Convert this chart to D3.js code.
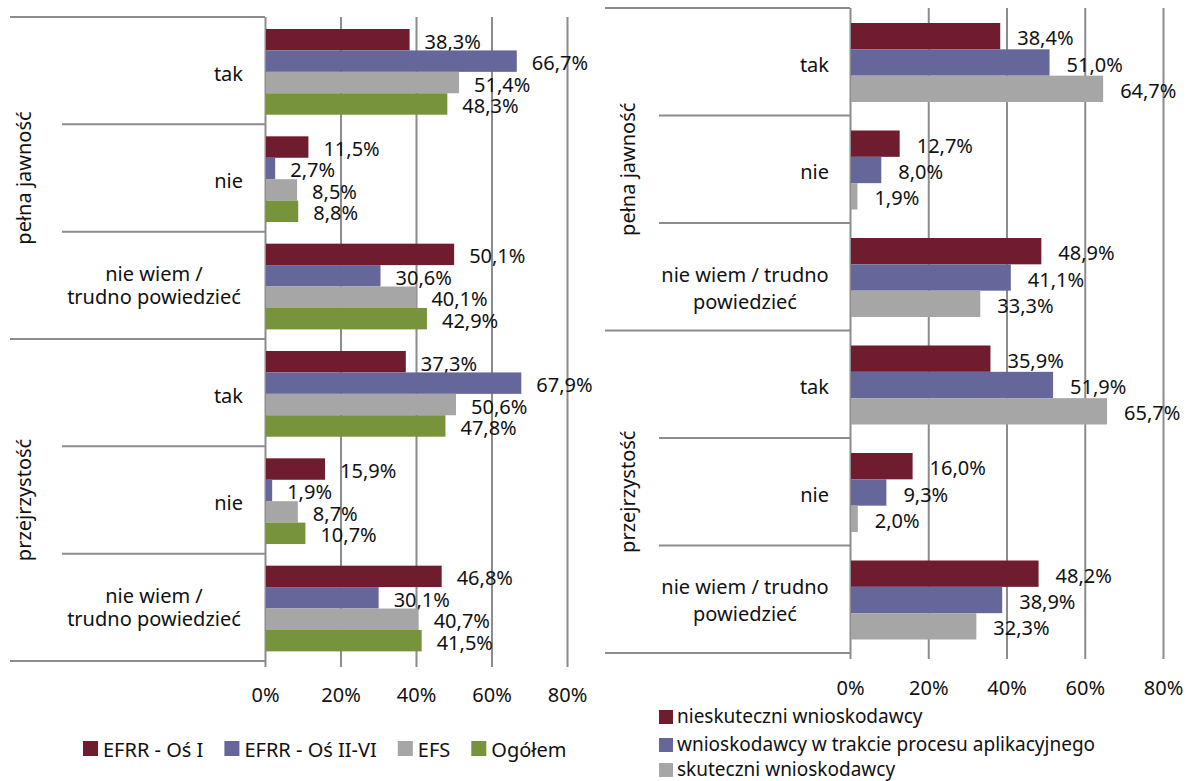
<!DOCTYPE html>
<html>
<head>
<meta charset="utf-8">
<script src="https://d3js.org/d3.v7.min.js"></script>
<style>
	body { margin: 0; background: #fff; }
	text { font-family: "Noto Sans", sans-serif; font-size: 20px; fill: #111; }
</style>
</head>
<body>
<svg id="chart" width="1192" height="781"></svg>
<script>
/*
** Two grouped bar charts: opinions about "pełna jawność" and "przejrzystość".
*/

// categories
var groups = ["pełna jawność", "przejrzystość"];
var answersLeft = [["tak"], ["nie"], ["nie wiem /", "trudno powiedzieć"]];
var answersRight = [["tak"], ["nie"], ["nie wiem / trudno", "powiedzieć"]];
var tickValues = [0, 20, 40, 60, 80];

// left chart series (tak, nie, nie wiem) x (pełna jawność, przejrzystość)
var seriesLeft = ["EFRR - Oś I", "EFRR - Oś II-VI", "EFS", "Ogółem"];
var efrr1 = [38.3, 11.5, 50.1, 37.3, 15.9, 46.8];
var efrr2 = [66.7, 2.7, 30.6, 67.9, 1.9, 30.1];
var efs = [51.4, 8.5, 40.1, 50.6, 8.7, 40.7];
var ogolem = [48.3, 8.8, 42.9, 47.8, 10.7, 41.5];

// right chart series
var seriesRight = ["nieskuteczni wnioskodawcy", "wnioskodawcy w trakcie procesu aplikacyjnego", "skuteczni wnioskodawcy"];
var nieskuteczni = [38.4, 12.7, 48.9, 35.9, 16.0, 48.2];
var wTrakcie = [51.0, 8.0, 41.1, 51.9, 9.3, 38.9];
var skuteczni = [64.7, 1.9, 33.3, 65.7, 2.0, 32.3];

var colors = ["#6f1d2e", "#65679a", "#a6a6a6", "#77933c"];
var lineColor = "#8c8c8c";

var svg = d3.select("#chart");

drawPanel({
	series: seriesLeft, values: [efrr1, efrr2, efs, ogolem], answers: answersLeft,
	top: 17, bottom: 661, x0: 265, x1: 567,
	outerLeft: 10, innerLeft: 62, groupX: 31, catX: 243, multiX: 154,
	multiDy: [-4, 19], multiShift: [0, 0],
	inner: [12, 97.7], gap: 15, tickY: 702
});

drawPanel({
	series: seriesRight, values: [nieskuteczni, wTrakcie, skuteczni], answers: answersRight,
	top: 8, bottom: 653, x0: 850, x1: 1163,
	outerLeft: 605, innerLeft: 659, groupX: 635, catX: 829, multiX: 745,
	multiDy: [-5, 22], multiShift: [10, 0],
	inner: [15, 94], gap: 17, tickY: 695
});

drawLegendRow(seriesLeft, 83, 741, 757);
drawLegendColumn(seriesRight, 659, [710, 738, 763], [723, 751, 776]);

/*
** Draws one bar chart panel.
*/
function drawPanel(cfg) {
	var g = svg.append("g");
	var rows = d3.range(6);

	var x = d3.scaleLinear().domain([0, 80]).range([cfg.x0, cfg.x1]);
	var y = d3.scaleBand().domain(rows).range([cfg.top, cfg.bottom]);
	var yInner = d3.scaleBand().domain(d3.range(cfg.series.length)).range(cfg.inner);

	// grid lines and tick labels
	var axis = d3.axisBottom(x)
		.tickValues(tickValues)
		.tickFormat(function(d) { return d + "%"; })
		.tickSizeOuter(0);

	var ax = g.append("g")
		.attr("transform", "translate(0," + cfg.bottom + ")")
		.call(axis);
	ax.select(".domain").remove();
	ax.selectAll(".tick line")
		.attr("y1", 6)
		.attr("y2", cfg.top - cfg.bottom)
		.attr("stroke", lineColor)
		.attr("stroke-width", 2);
	ax.selectAll(".tick text")
		.attr("y", cfg.tickY - cfg.bottom)
		.attr("dy", null)
		.attr("fill", "#111")
		.style("font-size", "20px")
		.style("font-family", "'Noto Sans', sans-serif");

	// horizontal separators between categories
	g.selectAll("line.sep")
		.data(d3.range(7))
		.enter()
		.append("line")
			.attr("class", "sep")
			.attr("x1", function(d) { return (d % 3 == 0) ? cfg.outerLeft : cfg.innerLeft; })
			.attr("x2", cfg.x0)
			.attr("y1", function(d) { return d < 6 ? y(d) : cfg.bottom; })
			.attr("y2", function(d) { return d < 6 ? y(d) : cfg.bottom; })
			.attr("stroke", lineColor)
			.attr("stroke-width", 2);

	// bars
	cfg.values.forEach(function(vals, s) {
		g.selectAll("rect.s" + s)
			.data(vals)
			.enter()
			.append("rect")
				.attr("class", "s" + s)
				.attr("x", x(0) + 1)
				.attr("y", function(d, i) { return y(i) + yInner(s); })
				.attr("width", function(d) { return x(d) - x(0) - 1; })
				.attr("height", yInner.bandwidth())
				.attr("fill", colors[s]);

		g.selectAll("text.v" + s)
			.data(vals)
			.enter()
			.append("text")
				.attr("class", "v" + s)
				.attr("x", function(d) { return x(d) + cfg.gap; })
				.attr("y", function(d, i) { return y(i) + yInner(s) + yInner.bandwidth() / 2 + 9; })
				.text(function(d) { return d3.format(".1f")(d).replace(".", ",") + "%"; });
	});

	// category labels
	rows.forEach(function(r) {
		var lines = cfg.answers[r % 3];
		var cy = y(r) + y.bandwidth() / 2;
		if (lines.length == 1) {
			g.append("text")
				.attr("x", cfg.catX)
				.attr("y", cy + 10)
				.attr("text-anchor", "end")
				.text(lines[0]);
		} else {
			lines.forEach(function(l, k) {
				g.append("text")
					.attr("x", cfg.multiX)
					.attr("y", cy + cfg.multiDy[k] + cfg.multiShift[Math.floor(r / 3)])
					.attr("text-anchor", "middle")
					.text(l);
			});
		}
	});

	// group labels, rotated
	groups.forEach(function(name, k) {
		var cy = (y(k * 3) + (k == 0 ? y(3) : cfg.bottom)) / 2;
		g.append("text")
			.attr("transform", "translate(" + cfg.groupX + "," + cy + ") rotate(-90)")
			.attr("text-anchor", "middle")
			.text(name);
	});
}

/*
** Legend with all items on one line.
*/
function drawLegendRow(names, startX, boxY, textY) {
	var cx = startX;
	names.forEach(function(name, i) {
		svg.append("rect")
			.attr("x", cx).attr("y", boxY)
			.attr("width", 15).attr("height", 15)
			.attr("fill", colors[i]);
		var t = svg.append("text")
			.attr("x", cx + 20)
			.attr("y", textY)
			.text(name);
		cx += 20 + t.node().getComputedTextLength() + 21;
	});
}

/*
** Legend with one item per line.
*/
function drawLegendColumn(names, startX, boxYs, textYs) {
	names.forEach(function(name, i) {
		svg.append("rect")
			.attr("x", startX).attr("y", boxYs[i])
			.attr("width", 14).attr("height", 14)
			.attr("fill", colors[i]);
		svg.append("text")
			.attr("x", startX + 18)
			.attr("y", textYs[i])
			.style("font-size", "19px")
			.text(name);
	});
}
</script>
</body>
</html>
